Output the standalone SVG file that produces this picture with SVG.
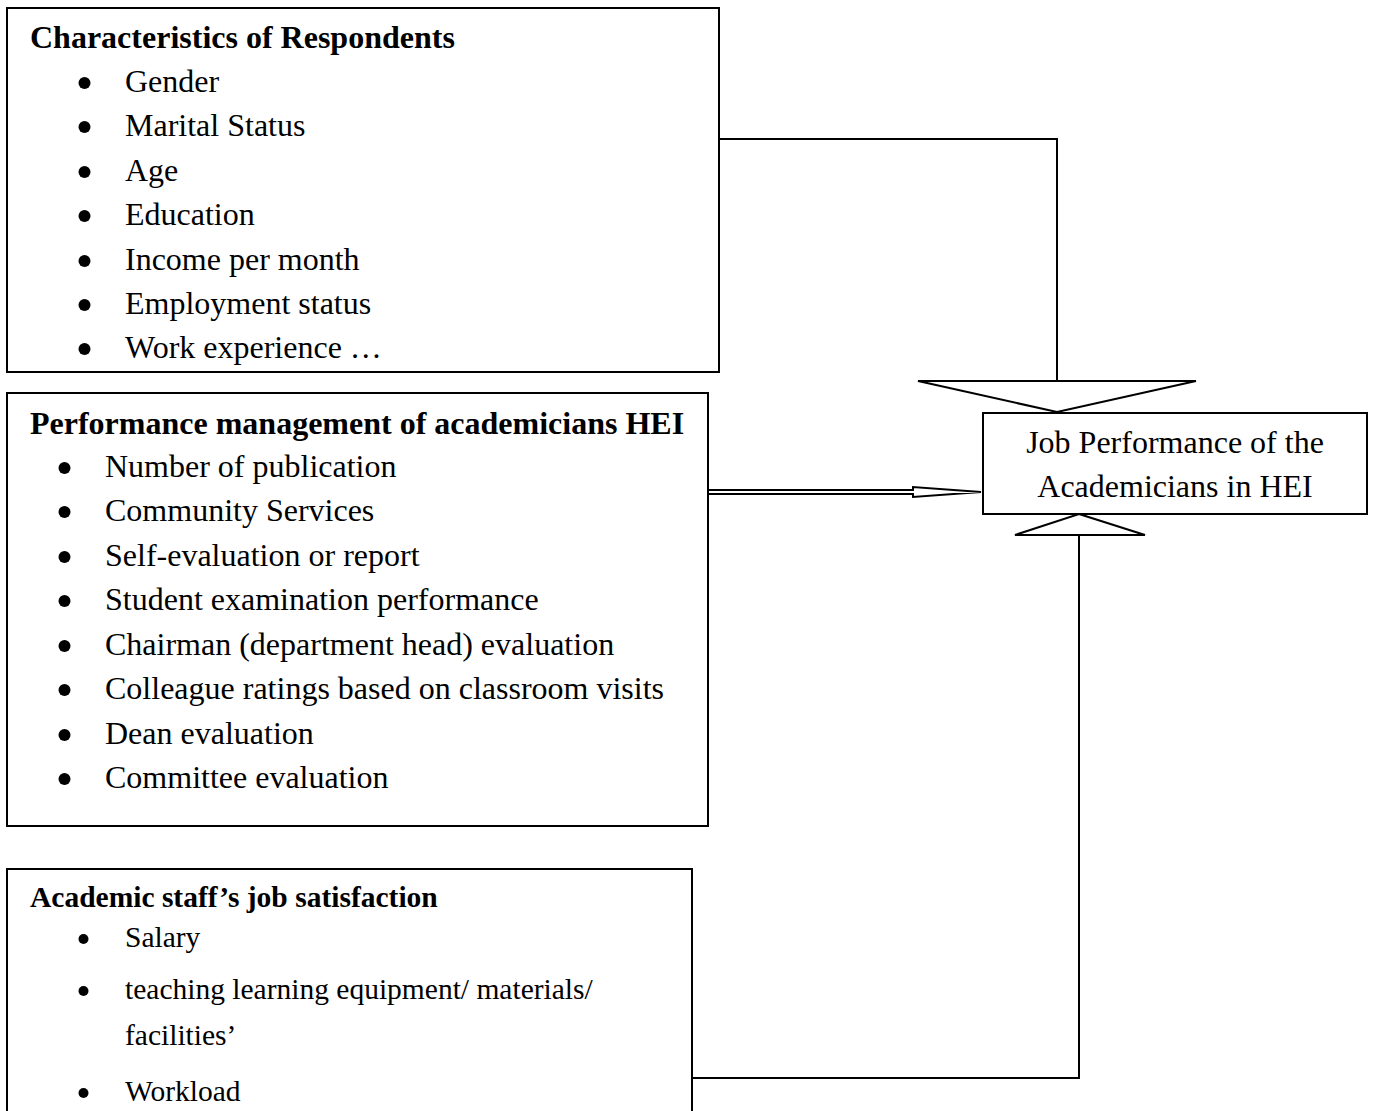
<svg xmlns="http://www.w3.org/2000/svg" width="1373" height="1111" viewBox="0 0 1373 1111">
<style>
.box{fill:#fff;stroke:#000;stroke-width:2}
.t{font-family:"Liberation Serif","Times New Roman",serif;font-size:32px;fill:#000}
.t2{font-family:"Liberation Serif","Times New Roman",serif;font-size:29.5px;fill:#000}
.b{font-weight:bold}
.dot{fill:#000}
.ln{fill:none;stroke:#000;stroke-width:2}
.tri{fill:#fff;stroke:#000;stroke-width:2}
</style>
<defs>
<clipPath id="c1"><rect x="0" y="0" width="720" height="369"/></clipPath>
</defs>
<rect width="1373" height="1111" fill="#fff"/>
<g id="connectors">
<polyline class="ln" points="719,139 1057,139 1057,381"/>
<polygon class="tri" points="918,381 1196,381 1057,412"/>
<polyline class="ln" points="692,1078 1079,1078 1079,535"/>
<polygon class="tri" points="1079,514 1145,535 1015,535"/>
<polygon class="tri" stroke-width="1.6" points="706,490 913,490 913,487 981,492 913,497 913,494 706,494"/>
</g>
<g id="characteristics">
<rect class="box" x="7" y="8" width="712" height="364"/>
<g clip-path="url(#c1)">
<text class="t b" x="30" y="48">Characteristics of Respondents</text>
<circle class="dot" cx="84.5" cy="83" r="6"/><text class="t" x="125" y="92">Gender</text>
<circle class="dot" cx="84.5" cy="127" r="6"/><text class="t" x="125" y="136">Marital Status</text>
<circle class="dot" cx="84.5" cy="172" r="6"/><text class="t" x="125" y="181">Age</text>
<circle class="dot" cx="84.5" cy="216" r="6"/><text class="t" x="125" y="225">Education</text>
<circle class="dot" cx="84.5" cy="261" r="6"/><text class="t" x="125" y="270">Income per month</text>
<circle class="dot" cx="84.5" cy="305" r="6"/><text class="t" x="125" y="314">Employment status</text>
<circle class="dot" cx="84.5" cy="349" r="6"/><text class="t" x="125" y="358">Work experience …</text>
</g>
</g>
<g id="performance-management">
<rect class="box" x="7" y="393" width="701" height="433"/>
<text class="t b" x="30" y="434">Performance management of academicians HEI</text>
<circle class="dot" cx="64.5" cy="468" r="6"/><text class="t" x="105" y="477">Number of publication</text>
<circle class="dot" cx="64.5" cy="512" r="6"/><text class="t" x="105" y="521">Community Services</text>
<circle class="dot" cx="64.5" cy="557" r="6"/><text class="t" x="105" y="566">Self-evaluation or report</text>
<circle class="dot" cx="64.5" cy="601" r="6"/><text class="t" x="105" y="610">Student examination performance</text>
<circle class="dot" cx="64.5" cy="646" r="6"/><text class="t" x="105" y="655">Chairman (department head) evaluation</text>
<circle class="dot" cx="64.5" cy="690" r="6"/><text class="t" x="105" y="699">Colleague ratings based on classroom visits</text>
<circle class="dot" cx="64.5" cy="735" r="6"/><text class="t" x="105" y="744">Dean evaluation</text>
<circle class="dot" cx="64.5" cy="779" r="6"/><text class="t" x="105" y="788">Committee evaluation</text>
</g>
<g id="job-satisfaction">
<rect class="box" x="7" y="869" width="685" height="260"/>
<text class="t2 b" x="30" y="907">Academic staff’s job satisfaction</text>
<circle class="dot" cx="83.5" cy="939" r="5"/><text class="t2" x="125" y="947">Salary</text>
<circle class="dot" cx="83.5" cy="991" r="5"/><text class="t2" x="125" y="999">teaching learning equipment/ materials/</text>
<text class="t2" x="125" y="1045">facilities’</text>
<circle class="dot" cx="83.5" cy="1093" r="5"/><text class="t2" x="125" y="1101">Workload</text>
</g>
<g id="job-performance">
<rect class="box" x="983" y="413" width="384" height="101"/>
<text class="t" x="1175" y="453" text-anchor="middle">Job Performance of the</text>
<text class="t" x="1175" y="497" text-anchor="middle">Academicians in HEI</text>
</g>
</svg>
